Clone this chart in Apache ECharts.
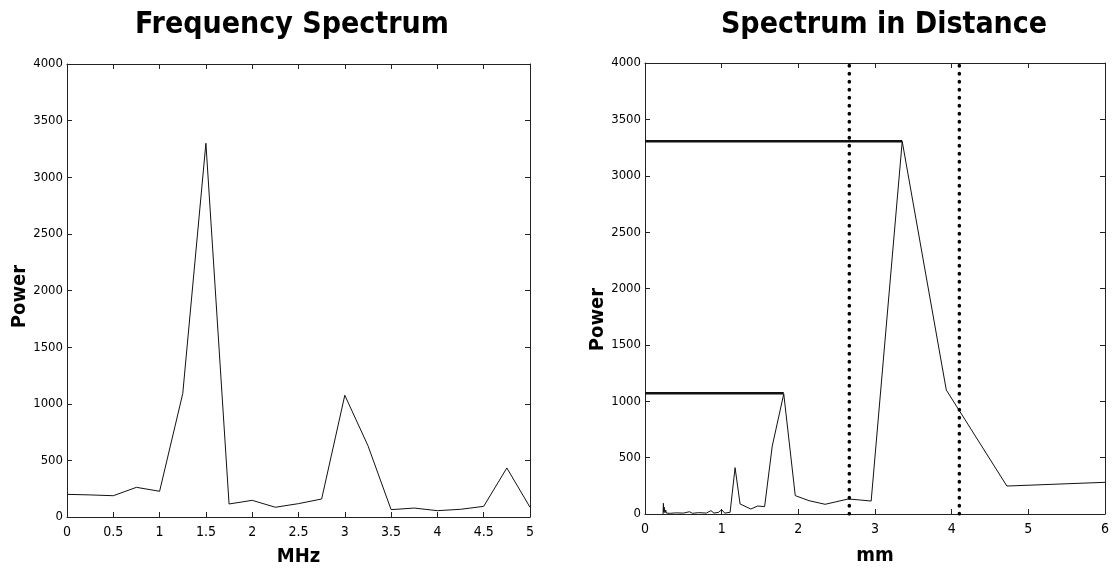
<!DOCTYPE html>
<html>
<head>
<meta charset="utf-8">
<title>Spectrum</title>
<script src="https://cdn.jsdelivr.net/npm/echarts@6/dist/echarts.min.js"></script>
<style>
  html, body { margin: 0; padding: 0; background: #fff; }
  #chart { width: 1112px; height: 572px; }
</style>
</head>
<body>
<div id="chart"></div>
<script>
// left panel: power vs frequency
const freqMHz = [0, 0.25, 0.5, 0.75, 1, 1.25, 1.5, 1.75, 2, 2.25, 2.5, 2.75, 3, 3.25, 3.5, 3.75, 4, 4.25, 4.5, 4.75, 5]
const freqPower = [200, 195, 188, 262, 227, 1090, 3300, 115, 147, 86, 118, 159, 1075, 630, 65, 79, 56, 68, 94, 433, 86]

// right panel: same spectrum mapped to distance
const distMm = [0.235, 0.24, 0.245, 0.25, 0.26, 0.27, 0.28, 0.3, 0.33, 0.4, 0.5, 0.58, 0.62, 0.7, 0.8, 0.86, 0.9, 0.96, 1.0, 1.04, 1.11,
  1.175, 1.24, 1.38, 1.47, 1.56, 1.66, 1.81, 1.96, 2.14, 2.35, 2.65, 2.81, 2.95, 3.355, 3.93, 4.72, 6]
const distPower = [0, 95, 15, 60, 12, 35, 8, 20, 6, 10, 8, 20, 6, 12, 8, 30, 8, 15, 38, 8, 15,
  411, 89, 44, 71, 65, 603, 1065, 163, 118, 86, 133, 124, 115, 3305, 1100, 248, 281]

// peak levels (held from 0 to the peak) and the dotted window
const peakMm = [1.81, 3.355]
const peakPower = [1070, 3305]
const windowMm = [2.665, 4.10]

const fontFamily = '"Liberation Sans Narrow", "DejaVu Sans Condensed", Arial, sans-serif'

function boxAxis(extra) {
  return Object.assign({
    type: 'value',
    axisLine: { show: true, onZero: false, lineStyle: { color: '#222', width: 1 } },
    axisTick: { show: true, inside: true, length: 5, lineStyle: { color: '#222' } },
    splitLine: { show: false },
    axisLabel: { color: '#000', fontSize: 14, fontFamily: fontFamily }
  }, extra)
}

const leftX = { min: 0, max: 5, interval: 0.5 }
const rightX = { min: 0, max: 6, interval: 1 }
const powerY = { min: 0, max: 4000, interval: 500 }

const nameStyle = { color: '#000', fontSize: 20, fontWeight: 'bold', fontFamily: fontFamily }
const yLabel = { color: '#000', fontSize: 13, fontFamily: fontFamily, margin: 4, formatter: v => String(v) }

const options = {
  animation: false,
  backgroundColor: '#fff',
  graphic: [
    { type: 'text', x: 292, y: 10, style: { text: 'Frequency Spectrum', textAlign: 'center', fill: '#000', fontSize: 30, fontWeight: 'bold', fontFamily: fontFamily } },
    { type: 'text', x: 884, y: 10, style: { text: 'Spectrum in Distance', textAlign: 'center', fill: '#000', fontSize: 30, fontWeight: 'bold', fontFamily: fontFamily } }
  ],
  grid: [
    { left: 67, right: 582, top: 64, bottom: 54 },
    { left: 645, right: 4, top: 63, bottom: 58 }
  ],
  xAxis: [
    boxAxis(Object.assign({ gridIndex: 0, name: 'MHz', nameLocation: 'middle', nameGap: 30, nameTextStyle: nameStyle,
      axisLabel: { color: '#000', fontSize: 14, fontFamily: fontFamily, margin: 8 } }, leftX)),
    boxAxis(Object.assign({ gridIndex: 0, position: 'top', axisLabel: { show: false } }, leftX)),
    boxAxis(Object.assign({ gridIndex: 1, name: 'mm', nameLocation: 'middle', nameGap: 32, nameTextStyle: nameStyle,
      axisLabel: { color: '#000', fontSize: 14, fontFamily: fontFamily, margin: 8 } }, rightX)),
    boxAxis(Object.assign({ gridIndex: 1, position: 'top', axisLabel: { show: false } }, rightX))
  ],
  yAxis: [
    boxAxis(Object.assign({ gridIndex: 0, name: 'Power', nameLocation: 'middle', nameGap: 36,
      nameTextStyle: Object.assign({ padding: [0, 12, 0, 0] }, nameStyle), axisLabel: yLabel }, powerY)),
    boxAxis(Object.assign({ gridIndex: 0, position: 'right', axisLabel: { show: false } }, powerY)),
    boxAxis(Object.assign({ gridIndex: 1, name: 'Power', nameLocation: 'middle', nameGap: 36,
      nameTextStyle: Object.assign({ padding: [0, 62, 0, 0] }, nameStyle), axisLabel: yLabel }, powerY)),
    boxAxis(Object.assign({ gridIndex: 1, position: 'right', axisLabel: { show: false } }, powerY))
  ],
  series: [
    {
      type: 'line', xAxisIndex: 0, yAxisIndex: 0, symbol: 'none',
      lineStyle: { color: '#111', width: 1 },
      data: freqMHz.map((f, i) => [f, freqPower[i]])
    },
    {
      type: 'line', xAxisIndex: 2, yAxisIndex: 2, symbol: 'none',
      lineStyle: { color: '#111', width: 1 },
      data: distMm.map((d, i) => [d, distPower[i]])
    }
  ]
}

// held peak levels
peakMm.forEach((m, i) => {
  options.series.push({
    type: 'line', xAxisIndex: 2, yAxisIndex: 2, symbol: 'none',
    lineStyle: { color: '#111', width: 2.5 },
    data: [[0, peakPower[i]], [m, peakPower[i]]]
  })
})

// dotted window edges
windowMm.forEach(m => {
  options.series.push({
    type: 'line', xAxisIndex: 2, yAxisIndex: 2, symbol: 'none',
    lineStyle: { color: '#000', width: 3.5, type: [0.5, 7.5], cap: 'round' },
    data: [[m, 0], [m, 4000]]
  })
})

const myChart = echarts.init(document.getElementById('chart'), null, { renderer: 'canvas' })
myChart.setOption(options)
</script>
</body>
</html>
